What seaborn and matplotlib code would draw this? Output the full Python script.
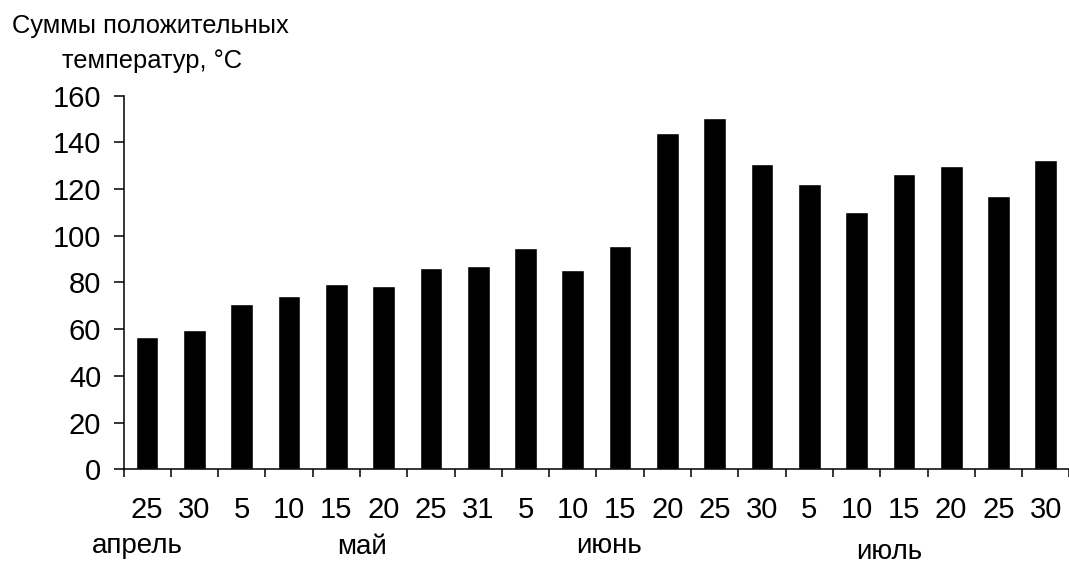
import matplotlib
matplotlib.use("Agg")
import numpy as np
import pandas as pd
import matplotlib.pyplot as plt
import matplotlib.transforms as mtransforms
import seaborn as sns

# Data
days = ["25", "30", "5", "10", "15", "20", "25", "31", "5", "10",
        "15", "20", "25", "30", "5", "10", "15", "20", "25", "30"]
temp_sums = [56.8, 59.7, 70.7, 74.2, 79.4, 78.5, 86.1, 87.1, 94.6, 85.2,
             95.6, 143.9, 150.6, 130.9, 122.3, 110.2, 126.6, 129.9, 117.1, 132.6]
months = ["апрель", "май", "июнь", "июль"]

df = pd.DataFrame({"pos": range(len(days)), "value": temp_sums})

sns.set_style("ticks")
plt.rcParams["font.family"] = ["Liberation Sans", "DejaVu Sans"]
plt.rcParams["text.color"] = "black"
plt.rcParams["xtick.labelcolor"] = "black"
plt.rcParams["ytick.labelcolor"] = "black"

W, H = 1069, 563
fig = plt.figure(figsize=(W / 100, H / 100), dpi=100)
ax = fig.add_axes([123.5 / W, 1 - 469.3 / H, (1069.4 - 123.5) / W, (469.3 - 95.7) / H])

sns.barplot(data=df, x="pos", y="value", color="black", saturation=1,
            width=0.48, errorbar=None, ax=ax)

ax.set_xlim(-0.5, len(days) - 0.5)
ax.set_ylim(0, 160)
ax.set_yticks(np.arange(0, 161, 20))
ax.set_xlabel("")
ax.set_ylabel("")
sns.despine(ax=ax)
for s in ("left", "bottom"):
    ax.spines[s].set_linewidth(1.1)
    ax.spines[s].set_color("black")

# tick marks between categories, labels under the bars
ax.set_xticks(np.arange(-0.5, len(days), 1))
ax.set_xticklabels([])
ax.set_xticks(range(len(days)), minor=True)
ax.set_xticklabels(days, minor=True)
ax.tick_params(axis="x", which="major", length=6, width=1.1, direction="out", color="black")
ax.tick_params(axis="x", which="minor", length=0, pad=19, labelsize=21, labelcolor="black")
ax.tick_params(axis="y", length=7, width=1.1, direction="out", color="black", pad=9,
               labelsize=21, labelcolor="black")

# month names under the day labels
trans = mtransforms.blended_transform_factory(ax.transData, fig.transFigure)
month_x = [-0.21, 4.54, 9.77, 15.69]
month_y = [553, 554, 553, 559]
for name, mx, my in zip(months, month_x, month_y):
    ax.text(mx, 1 - my / H, name, transform=trans, ha="center", va="baseline",
            fontsize=20, color="black")

fig.text(12 / W, 1 - 33 / H, "Суммы положительных", ha="left", va="baseline",
         fontsize=18.4, color="black")
fig.text(62 / W, 1 - 68 / H, "температур, °С", ha="left", va="baseline",
         fontsize=18.4, color="black")

fig.savefig("out.png", dpi=100)
